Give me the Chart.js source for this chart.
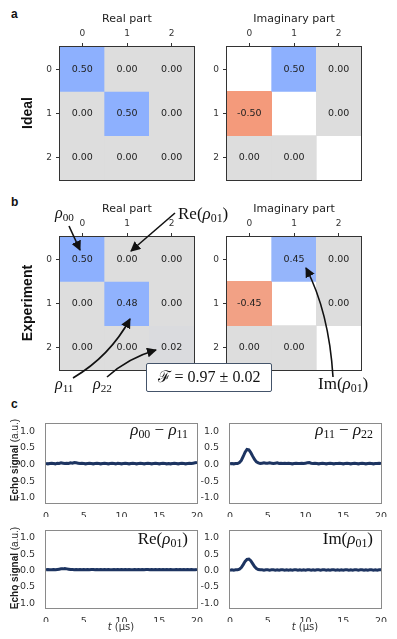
<!DOCTYPE html>
<html>
<head>
<meta charset="utf-8">
<script src="https://cdn.jsdelivr.net/npm/chart.js@4.4.1/dist/chart.umd.min.js"></script>
<style>
  body { margin: 0; background: #fff; }
  #fig { position: relative; width: 397px; height: 639px; overflow: hidden; font-family: "DejaVu Sans", sans-serif; }
  #fig canvas { position: absolute; }
  .lbl { position: absolute; white-space: nowrap; }
  .panel { font: bold 12px "Liberation Sans", Arial, sans-serif; line-height: 12px; color: #111; }
  .side { width: 100px; height: 16px; line-height: 16px; text-align: center; transform: rotate(-90deg); font: bold 14px "Liberation Sans", Arial, sans-serif; color: #111; }
  .echo { width: 100px; height: 12px; line-height: 12px; text-align: center; transform: rotate(-90deg); font-size: 10px; font-family: "Liberation Sans", Arial, sans-serif; color: #222; }
  .tlab { width: 60px; text-align: center; font-size: 10px; line-height: 14px; color: #333; }
  .math { font-family: "Liberation Serif", "DejaVu Serif", serif; color: #111; line-height: 18px; }
  .math i { font-style: italic; }
  .math sub { font-size: 70%; vertical-align: -0.25em; line-height: 0; }
  #fid { position: absolute; left: 146px; top: 363px; width: 126px; height: 29px; box-sizing: border-box; border: 1.5px solid #44546a; border-radius: 2px; background: #fff; text-align: center; line-height: 26px; font-size: 16px; }
  svg { position: absolute; left: 0; top: 0; pointer-events: none; }
</style>
</head>
<body>
<div id="fig">
  <canvas id="idealRe" width="170" height="190" style="left:30px;top:0px"></canvas>
  <canvas id="idealIm" width="170" height="190" style="left:197px;top:0px"></canvas>
  <canvas id="expRe" width="170" height="190" style="left:30px;top:190px"></canvas>
  <canvas id="expIm" width="170" height="190" style="left:197px;top:190px"></canvas>
  <canvas id="sigA" width="190" height="102" style="left:14px;top:415px"></canvas>
  <canvas id="sigB" width="190" height="102" style="left:198px;top:415px"></canvas>
  <canvas id="sigC" width="190" height="100" style="left:14px;top:522px"></canvas>
  <canvas id="sigD" width="190" height="100" style="left:198px;top:522px"></canvas>

  <div class="lbl panel" style="left:11px;top:8px">a</div>
  <div class="lbl panel" style="left:11px;top:196px">b</div>
  <div class="lbl panel" style="left:11px;top:398px">c</div>
  <div class="lbl side" style="left:-23px;top:105px">Ideal</div>
  <div class="lbl side" style="left:-23px;top:295px">Experiment</div>
  <div class="lbl echo" style="left:-35px;top:454px"><b>Echo signal</b> (a.u.)</div>
  <div class="lbl echo" style="left:-35px;top:562px"><b>Echo signal</b> (a.u.)</div>
  <div class="lbl tlab" style="left:91px;top:620px"><i>t</i> (μs)</div>
  <div class="lbl tlab" style="left:275px;top:620px"><i>t</i> (μs)</div>

  <div class="lbl math" style="left:55px;top:204px;font-size:16px"><i>ρ</i><sub>00</sub></div>
  <div class="lbl math" style="left:178px;top:205px;font-size:17px">Re(<i>ρ</i><sub>01</sub>)</div>
  <div class="lbl math" style="left:55px;top:375px;font-size:16px"><i>ρ</i><sub>11</sub></div>
  <div class="lbl math" style="left:93px;top:375px;font-size:16px"><i>ρ</i><sub>22</sub></div>
  <div class="lbl math" style="left:318px;top:375px;font-size:17px">Im(<i>ρ</i><sub>01</sub>)</div>
  <div id="fid" class="math">ℱ = 0.97 ± 0.02</div>

  <div class="lbl math" style="right:209px;top:421px;font-size:17px"><i>ρ</i><sub>00</sub> − <i>ρ</i><sub>11</sub></div>
  <div class="lbl math" style="right:24px;top:421px;font-size:17px"><i>ρ</i><sub>11</sub> − <i>ρ</i><sub>22</sub></div>
  <div class="lbl math" style="right:209px;top:530px;font-size:17px">Re(<i>ρ</i><sub>01</sub>)</div>
  <div class="lbl math" style="right:24px;top:530px;font-size:17px">Im(<i>ρ</i><sub>01</sub>)</div>

  <svg width="397" height="639">
    <defs>
      <marker id="head" markerUnits="userSpaceOnUse" markerWidth="10" markerHeight="10" refX="9" refY="5" orient="auto">
        <path d="M0,0 L10,5 L0,10 Z" fill="#111"/>
      </marker>
    </defs>
    <g stroke="#111" stroke-width="1.6" fill="none" marker-end="url(#head)">
      <path d="M69,226 L80,250"/>
      <path d="M175,213 L131,251"/>
      <path d="M73,378 Q110,356 130,319"/>
      <path d="M107,377 Q128,358 156,350"/>
      <path d="M333,377 Q329,312 306,268"/>
    </g>
  </svg>
</div>

<script>
// density matrix entries (null = masked diagonal of the imaginary part)
const basisLabels = ['0', '1', '2'];
const idealReal = [[0.50, 0.00, 0.00], [0.00, 0.50, 0.00], [0.00, 0.00, 0.00]];
const idealImag = [[null, 0.50, 0.00], [-0.50, null, 0.00], [0.00, 0.00, null]];
const expReal = [[0.50, 0.00, 0.00], [0.00, 0.48, 0.00], [0.00, 0.00, 0.02]];
const expImag = [[null, 0.45, 0.00], [-0.45, null, 0.00], [0.00, 0.00, null]];

// echo signals, t in microseconds
const timeUs = [0, 0.25, 0.5, 0.75, 1, 1.25, 1.5, 1.75, 2, 2.25, 2.5, 2.75, 3, 3.25, 3.5, 3.75,
  4, 4.25, 4.5, 4.75, 5, 5.25, 5.5, 5.75, 6, 6.25, 6.5, 6.75, 7, 7.25, 7.5, 7.75,
  8, 8.25, 8.5, 8.75, 9, 9.25, 9.5, 9.75, 10, 10.25, 10.5, 10.75, 11, 11.25, 11.5, 11.75,
  12, 12.25, 12.5, 12.75, 13, 13.25, 13.5, 13.75, 14, 14.25, 14.5, 14.75, 15, 15.25, 15.5, 15.75,
  16, 16.25, 16.5, 16.75, 17, 17.25, 17.5, 17.75, 18, 18.25, 18.5, 18.75, 19, 19.25, 19.5, 19.75, 20];
const popDiff01 = [0.03, 0.02, 0.03, 0.04, 0.03, 0.02, 0.04, 0.03, 0.05, 0.04,
  0.03, 0.04, 0.03, 0.05, 0.04, 0.06, 0.05, 0.04, 0.03, 0.04,
  0.03, 0.02, 0.03, 0.04, 0.03, 0.02, 0.03, 0.04, 0.03, 0.02,
  0.03, 0.04, 0.03, 0.02, 0.03, 0.04, 0.03, 0.02, 0.04, 0.03,
  0.02, 0.03, 0.04, 0.03, 0.02, 0.03, 0.04, 0.03, 0.02, 0.03,
  0.04, 0.03, 0.02, 0.03, 0.04, 0.03, 0.02, 0.03, 0.04, 0.03,
  0.02, 0.03, 0.04, 0.03, 0.02, 0.03, 0.02, 0.03, 0.04, 0.03,
  0.02, 0.03, 0.04, 0.03, 0.02, 0.03, 0.04, 0.03, 0.04, 0.05, 0.06];
const popDiff12 = [0.02, 0.03, 0.02, 0.03, 0.03, 0.06, 0.12, 0.24, 0.37, 0.45,
  0.44, 0.36, 0.25, 0.15, 0.08, 0.05, 0.03, 0.04, 0.05, 0.04,
  0.04, 0.05, 0.04, 0.03, 0.04, 0.05, 0.03, 0.04, 0.03, 0.04,
  0.03, 0.04, 0.03, 0.02, 0.03, 0.04, 0.03, 0.03, 0.04, 0.03,
  0.04, 0.05, 0.06, 0.04, 0.03, 0.04, 0.03, 0.02, 0.03, 0.04,
  0.03, 0.02, 0.03, 0.04, 0.03, 0.02, 0.03, 0.03, 0.04, 0.03,
  0.02, 0.03, 0.04, 0.03, 0.02, 0.03, 0.04, 0.03, 0.02, 0.03,
  0.04, 0.03, 0.02, 0.03, 0.04, 0.03, 0.02, 0.03, 0.03, 0.04, 0.03];
const coherRe = [0.02, 0.03, 0.02, 0.02, 0.03, 0.02, 0.03, 0.04, 0.05, 0.05,
  0.06, 0.05, 0.04, 0.03, 0.03, 0.02, 0.03, 0.02, 0.03, 0.02,
  0.03, 0.02, 0.03, 0.02, 0.03, 0.03, 0.02, 0.03, 0.02, 0.03,
  0.02, 0.03, 0.02, 0.03, 0.02, 0.02, 0.03, 0.02, 0.03, 0.02,
  0.03, 0.02, 0.03, 0.02, 0.03, 0.02, 0.02, 0.03, 0.02, 0.03,
  0.02, 0.03, 0.02, 0.03, 0.03, 0.02, 0.03, 0.02, 0.03, 0.02,
  0.03, 0.02, 0.03, 0.02, 0.03, 0.02, 0.03, 0.02, 0.02, 0.03,
  0.02, 0.03, 0.02, 0.03, 0.02, 0.03, 0.02, 0.03, 0.02, 0.02, 0.03];
const coherIm = [0.01, 0.02, 0.01, 0.02, 0.02, 0.04, 0.09, 0.18, 0.28, 0.34,
  0.35, 0.30, 0.21, 0.12, 0.06, 0.03, 0.02, 0.02, 0.01, 0.02,
  0.02, 0.01, 0.02, 0.02, 0.01, 0.02, 0.01, 0.02, 0.02, 0.01,
  0.02, 0.01, 0.02, 0.01, 0.02, 0.02, 0.01, 0.02, 0.01, 0.02,
  0.01, 0.02, 0.02, 0.01, 0.02, 0.01, 0.02, 0.02, 0.01, 0.02,
  0.02, 0.01, 0.02, 0.01, 0.02, 0.02, 0.01, 0.02, 0.01, 0.02,
  0.01, 0.02, 0.02, 0.01, 0.02, 0.01, 0.02, 0.02, 0.01, 0.02,
  0.02, 0.01, 0.02, 0.01, 0.02, 0.02, 0.01, 0.02, 0.01, 0.02, 0.02];
const timeTicks = [0, 5, 10, 15, 20];
const signalTicks = [-1, -0.5, 0, 0.5, 1];

Chart.defaults.font.family = "'DejaVu Sans', sans-serif";

function cellColor(v) {
  if (v === null) return 'rgba(0,0,0,0)';
  const grey = [221, 221, 221], blue = [141, 176, 254], red = [244, 154, 123];
  const end = v >= 0 ? blue : red;
  const t = Math.min(Math.abs(v) / 0.5, 1);
  const c = grey.map((g, i) => Math.round(g + (end[i] - g) * t));
  return `rgb(${c[0]},${c[1]},${c[2]})`;
}

const frame = {
  id: 'frame',
  afterDraw(chart, args, opts) {
    const { ctx, chartArea: a } = chart;
    ctx.save();
    ctx.strokeStyle = opts.color || '#333';
    ctx.lineWidth = 1;
    ctx.strokeRect(Math.round(a.left) - 0.5, Math.round(a.top) - 0.5, Math.round(a.right - a.left) + 1, Math.round(a.bottom - a.top) + 1);
    ctx.restore();
  }
};

const cellText = {
  id: 'cellText',
  afterDatasetsDraw(chart, args, opts) {
    const { ctx, scales: { x, y } } = chart;
    ctx.save();
    ctx.font = '9.5px "DejaVu Sans"';
    ctx.fillStyle = '#222';
    ctx.textAlign = 'center';
    ctx.textBaseline = 'middle';
    opts.values.forEach((row, r) => row.forEach((v, c) => {
      if (v !== null) ctx.fillText(v.toFixed(2), x.getPixelForValue(c), y.getPixelForValue(r));
    }));
    ctx.restore();
  }
};

function heatmap(id, title, values) {
  const datasets = values.map((row, r) => ({
    data: row.map(v => v === null ? null : [r - 0.5, r + 0.5]),
    backgroundColor: row.map(cellColor),
    grouped: false,
    barPercentage: 1,
    categoryPercentage: 1,
    borderWidth: 0
  }));
  new Chart(document.getElementById(id), {
    type: 'bar',
    data: { labels: basisLabels, datasets },
    options: {
      responsive: false,
      animation: false,
      layout: { padding: { right: 6, bottom: 10 } },
      plugins: { legend: { display: false }, tooltip: { enabled: false }, cellText: { values }, frame: { color: '#333' } },
      scales: {
        x: {
          position: 'top',
          offset: true,
          afterFit: s => { s.height = 47; },
          grid: { offset: false, drawOnChartArea: false, tickLength: 4, color: '#333' },
          border: { display: false },
          title: { display: true, text: title, color: '#222', font: { size: 11 }, padding: { top: 13, bottom: 0 } },
          ticks: { color: '#333', font: { size: 9 }, padding: 4 }
        },
        y: {
          min: -0.5,
          max: 2.5,
          reverse: true,
          afterBuildTicks: s => { s.ticks = basisLabels.map((_, i) => ({ value: i })); },
          afterFit: s => { s.width = 30; },
          grid: { drawOnChartArea: false, tickLength: 4, color: '#333' },
          border: { display: false },
          ticks: { color: '#333', font: { size: 9 }, padding: 4, callback: v => basisLabels[v] }
        }
      }
    },
    plugins: [cellText, frame]
  });
}

function signalChart(id, values) {
  new Chart(document.getElementById(id), {
    type: 'line',
    data: { datasets: [{ data: timeUs.map((t, i) => ({ x: t, y: values[i] })), borderColor: '#1d3461', borderWidth: 3, pointRadius: 0, tension: 0 }] },
    options: {
      responsive: false,
      animation: false,
      layout: { padding: { top: 4, right: 7 } },
      plugins: { legend: { display: false }, tooltip: { enabled: false }, frame: { color: '#8a8a8a' } },
      scales: {
        x: {
          type: 'linear', min: 0, max: 20,
          afterBuildTicks: s => { s.ticks = timeTicks.map(v => ({ value: v })); },
          afterFit: s => { s.height = 14; },
          grid: { display: false },
          border: { display: false },
          ticks: { color: '#333', font: { size: 9.5 }, padding: 0 }
        },
        y: {
          min: -1.15, max: 1.22,
          afterBuildTicks: s => { s.ticks = signalTicks.map(v => ({ value: v })); },
          afterFit: s => { s.width = 32; },
          grid: { display: false },
          border: { display: false },
          ticks: { color: '#333', font: { size: 9.5 }, padding: 3, callback: v => Number(v).toFixed(1) }
        }
      }
    },
    plugins: [frame]
  });
}

heatmap('idealRe', 'Real part', idealReal);
heatmap('idealIm', 'Imaginary part', idealImag);
heatmap('expRe', 'Real part', expReal);
heatmap('expIm', 'Imaginary part', expImag);
signalChart('sigA', popDiff01);
signalChart('sigB', popDiff12);
signalChart('sigC', coherRe);
signalChart('sigD', coherIm);
</script>
</body>
</html>
